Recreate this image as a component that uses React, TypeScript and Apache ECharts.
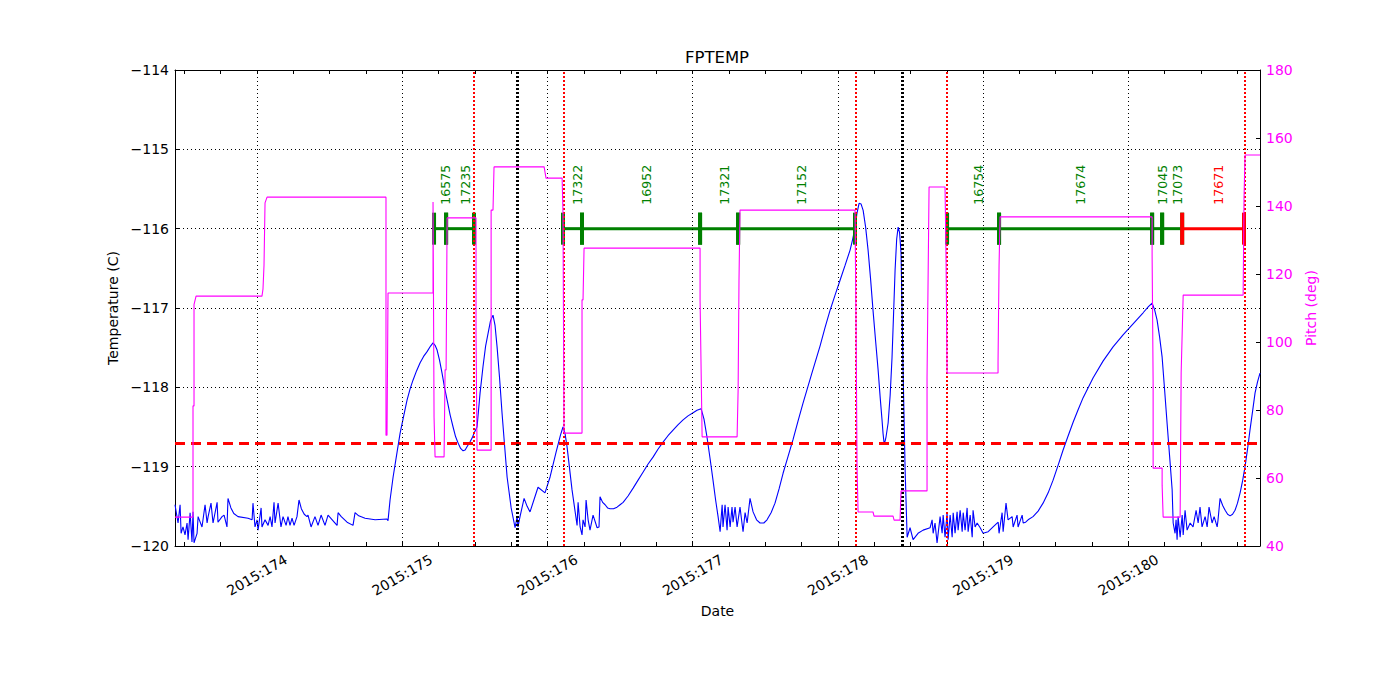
import React, { useEffect, useRef } from 'react';
import * as echarts from 'echarts';

const X_MIN = 173.435;
const X_MAX = 180.907;
const dayTicks = [174, 175, 176, 177, 178, 179, 180];
const quarterTicks = [
  173.5, 173.75, 174, 174.25, 174.5, 174.75, 175, 175.25, 175.5, 175.75,
  176, 176.25, 176.5, 176.75, 177, 177.25, 177.5, 177.75, 178, 178.25,
  178.5, 178.75, 179, 179.25, 179.5, 179.75, 180, 180.25, 180.5, 180.75,
];

// FPTEMP (deg C) vs day of year 2015
const fptemp: [number, number][] = [
  [173.435,-119.48],[173.456,-119.71],[173.470,-119.48],[173.477,-119.84],[173.490,-119.76],
  [173.504,-119.86],[173.518,-119.71],[173.525,-119.92],[173.539,-119.58],[173.552,-119.95],
  [173.559,-119.57],[173.566,-119.96],[173.587,-119.84],[173.594,-119.63],[173.621,-119.76],
  [173.642,-119.48],[173.656,-119.71],[173.663,-119.63],[173.683,-119.46],[173.697,-119.71],
  [173.725,-119.45],[173.731,-119.70],[173.759,-119.63],[173.773,-119.61],[173.793,-119.76],
  [173.800,-119.40],[173.820,-119.52],[173.840,-119.59],[173.869,-119.63],[173.938,-119.65],
  [173.966,-119.67],[173.972,-119.46],[173.986,-119.76],[174.000,-119.67],[174.007,-119.80],
  [174.028,-119.52],[174.034,-119.76],[174.055,-119.67],[174.076,-119.74],[174.090,-119.63],
  [174.103,-119.76],[174.117,-119.45],[174.124,-119.71],[174.145,-119.46],[174.165,-119.76],
  [174.179,-119.63],[174.200,-119.74],[174.213,-119.63],[174.227,-119.74],[174.241,-119.65],
  [174.255,-119.74],[174.275,-119.63],[174.289,-119.42],[174.305,-119.53],[174.325,-119.60],
  [174.344,-119.63],[174.351,-119.61],[174.372,-119.76],[174.399,-119.63],[174.420,-119.74],
  [174.441,-119.61],[174.468,-119.74],[174.489,-119.61],[174.551,-119.74],[174.558,-119.58],
  [174.580,-119.63],[174.620,-119.70],[174.661,-119.74],[174.675,-119.58],[174.700,-119.62],
  [174.744,-119.65],[174.813,-119.67],[174.895,-119.66],[174.902,-119.68],[174.916,-119.42],
  [174.937,-119.13],[174.964,-118.82],[174.985,-118.58],[175.010,-118.36],[175.033,-118.16],
  [175.054,-118.02],[175.074,-117.91],[175.099,-117.79],[175.123,-117.69],[175.147,-117.61],
  [175.171,-117.55],[175.195,-117.48],[175.212,-117.44],[175.226,-117.47],[175.240,-117.53],
  [175.257,-117.66],[175.274,-117.82],[175.291,-118.00],[175.309,-118.16],[175.330,-118.35],
  [175.350,-118.50],[175.367,-118.62],[175.384,-118.70],[175.402,-118.77],[175.419,-118.80],
  [175.433,-118.79],[175.446,-118.75],[175.466,-118.69],[175.481,-118.64],
  [175.494,-118.58],[175.515,-118.50],[175.536,-118.07],[175.556,-117.74],[175.574,-117.48],
  [175.591,-117.32],[175.608,-117.16],[175.625,-117.09],[175.639,-117.22],[175.653,-117.49],
  [175.670,-117.88],[175.687,-118.32],[175.705,-118.74],[175.722,-119.13],[175.750,-119.52],
  [175.777,-119.77],[175.791,-119.63],[175.797,-119.76],[175.811,-119.63],[175.839,-119.40],
  [175.860,-119.50],[175.880,-119.57],[175.935,-119.26],[175.983,-119.33],[176.018,-119.13],
  [176.059,-118.82],[176.090,-118.60],[176.107,-118.50],[176.121,-118.58],
  [176.135,-118.75],[176.169,-119.29],[176.204,-119.74],[176.211,-119.45],[176.225,-119.76],
  [176.238,-119.86],[176.245,-119.67],[176.259,-119.76],[176.266,-119.42],[176.280,-119.67],
  [176.293,-119.80],[176.314,-119.61],[176.342,-119.77],[176.355,-119.76],[176.362,-119.38],
  [176.380,-119.45],[176.397,-119.48],[176.414,-119.52],[176.431,-119.53],[176.455,-119.53],
  [176.479,-119.51],[176.500,-119.48],[176.521,-119.45],[176.555,-119.37],[176.590,-119.27],
  [176.624,-119.17],[176.658,-119.07],[176.692,-118.97],[176.727,-118.88],[176.761,-118.78],
  [176.796,-118.69],[176.830,-118.61],[176.865,-118.54],[176.900,-118.47],[176.934,-118.41],
  [176.968,-118.36],[177.003,-118.32],[177.030,-118.29],[177.058,-118.27],[177.078,-118.40],
  [177.099,-118.63],[177.120,-118.90],[177.140,-119.17],[177.158,-119.42],[177.175,-119.63],
  [177.189,-119.82],[177.203,-119.48],[177.209,-119.76],[177.223,-119.48],[177.237,-119.80],
  [177.244,-119.51],[177.258,-119.76],[177.271,-119.51],[177.278,-119.70],[177.292,-119.51],
  [177.306,-119.76],[177.326,-119.51],[177.347,-119.82],[177.361,-119.58],[177.375,-119.71],
  [177.395,-119.40],[177.416,-119.57],[177.440,-119.67],[177.464,-119.71],[177.490,-119.71],
  [177.512,-119.67],[177.540,-119.58],[177.567,-119.46],[177.595,-119.28],
  [177.623,-119.08],[177.657,-118.87],[177.691,-118.66],[177.725,-118.43],[177.760,-118.20],
  [177.818,-117.84],[177.877,-117.48],[177.911,-117.25],[177.946,-117.03],[177.980,-116.84],
  [178.015,-116.65],[178.050,-116.46],[178.084,-116.27],[178.101,-116.14],[178.118,-115.99],
  [178.132,-115.80],[178.146,-115.68],[178.160,-115.69],[178.174,-115.77],[178.191,-115.98],
  [178.208,-116.27],[178.225,-116.63],[178.242,-117.03],[178.260,-117.42],[178.277,-117.78],
  [178.291,-118.12],[178.304,-118.41],[178.311,-118.58],[178.318,-118.70],[178.325,-118.68],
  [178.332,-118.62],[178.346,-118.45],[178.360,-118.10],[178.373,-117.62],[178.384,-117.05],
  [178.394,-116.52],[178.405,-116.13],[178.415,-115.98],[178.425,-116.05],[178.435,-116.31],
  [178.449,-117.78],[178.463,-119.04],[178.477,-119.89],[178.497,-119.77],[178.518,-119.92],
  [178.552,-119.84],[178.587,-119.80],[178.635,-119.77],[178.649,-119.67],[178.656,-119.84],
  [178.669,-119.71],[178.683,-119.96],[178.704,-119.63],[178.718,-119.84],[178.725,-119.61],
  [178.738,-119.89],[178.752,-119.58],[178.759,-119.92],[178.773,-119.61],[178.787,-119.89],
  [178.794,-119.58],[178.807,-119.84],[178.821,-119.57],[178.828,-119.80],[178.842,-119.55],
  [178.856,-119.82],[178.863,-119.58],[178.876,-119.80],[178.890,-119.52],[178.897,-119.82],
  [178.911,-119.61],[178.925,-119.89],[178.931,-119.55],[178.945,-119.76],[178.959,-119.71],
  [178.980,-119.77],[179.000,-119.84],[179.035,-119.82],[179.069,-119.76],[179.104,-119.70],
  [179.110,-119.84],[179.131,-119.58],[179.138,-119.82],[179.158,-119.46],[179.172,-119.67],
  [179.200,-119.63],[179.207,-119.76],[179.234,-119.61],[179.241,-119.76],[179.269,-119.61],
  [179.276,-119.71],[179.293,-119.70],[179.310,-119.67],[179.344,-119.63],[179.379,-119.56],
  [179.413,-119.46],[179.448,-119.33],[179.482,-119.17],[179.517,-118.98],[179.551,-118.79],
  [179.586,-118.61],[179.620,-118.44],[179.655,-118.28],[179.689,-118.13],[179.758,-117.88],
  [179.826,-117.67],[179.895,-117.49],[179.964,-117.34],[180.033,-117.20],[180.102,-117.06],
  [180.140,-116.98],[180.164,-116.94],[180.181,-117.02],[180.198,-117.15],[180.216,-117.37],
  [180.233,-117.62],[180.250,-118.03],[180.267,-118.45],[180.285,-118.88],
  [180.302,-119.29],[180.309,-119.71],[180.322,-119.84],[180.329,-119.67],[180.336,-119.92],
  [180.343,-119.63],[180.357,-119.89],[180.371,-119.61],[180.378,-119.86],[180.391,-119.55],
  [180.405,-119.80],[180.426,-119.71],[180.446,-119.76],[180.467,-119.55],[180.481,-119.71],
  [180.494,-119.51],[180.508,-119.76],[180.529,-119.63],[180.543,-119.76],[180.556,-119.51],
  [180.577,-119.71],[180.591,-119.63],[180.612,-119.76],[180.618,-119.67],[180.632,-119.40],
  [180.650,-119.49],[180.667,-119.55],[180.684,-119.60],[180.701,-119.62],[180.718,-119.60],
  [180.735,-119.55],[180.752,-119.46],[180.770,-119.33],[180.787,-119.18],[180.804,-119.00],
  [180.821,-118.78],[180.838,-118.54],[180.856,-118.30],[180.873,-118.07],[180.890,-117.93],
  [180.907,-117.82],
];

// Pitch (deg) vs day of year 2015
const pitch: [number, number][] = [
  [173.435,48.5],[173.559,48.5],[173.559,81.2],[173.566,81.2],[173.566,111.0],[173.580,113.5],
  [174.034,113.5],[174.041,115.6],[174.048,122.6],[174.055,140.9],[174.069,142.6],
  [174.888,142.6],[174.888,72.6],[174.895,72.6],[174.902,114.4],[175.212,114.4],
  [175.212,141.2],[175.219,77.9],[175.226,66.2],[175.288,66.2],[175.295,91.8],[175.302,91.8],
  [175.309,136.5],[175.508,136.5],[175.508,102.6],[175.515,68.2],[175.612,68.2],
  [175.612,138.8],[175.625,138.8],[175.632,151.5],[175.977,151.5],[175.990,148.2],
  [176.101,148.2],[176.107,137.9],[176.114,73.2],[176.238,73.2],[176.238,112.4],
  [176.245,112.4],[176.252,127.6],[177.051,127.6],[177.051,112.4],[177.065,72.1],
  [177.306,72.1],[177.313,85.9],[177.319,118.0],[177.326,138.8],[178.118,138.8],
  [178.125,105.6],[178.132,63.2],[178.139,50.0],[178.242,50.0],[178.249,48.8],
  [178.380,48.8],[178.387,47.6],[178.428,47.6],[178.435,56.2],[178.614,56.2],
  [178.614,89.4],[178.628,145.6],[178.738,145.6],[178.745,124.1],[178.752,90.9],
  [179.103,90.9],[179.103,94.1],[179.110,122.6],[179.117,136.8],[180.164,136.8],
  [180.164,125.6],[180.171,87.9],[180.171,62.9],[180.233,62.9],[180.233,57.9],
  [180.240,48.5],[180.357,48.5],[180.364,90.9],[180.378,113.8],[180.791,113.8],
  [180.797,142.4],[180.804,155.0],[180.907,155.0],
];

// Observation intervals
const obsids = ['16575','17235','17322','16952','17321','17152','16754','17674','17045','17073','17671'];
const obsStart = [175.219,175.302,176.107,176.238,177.051,177.313,178.752,179.110,180.164,180.233,180.371];
const obsStop = [175.302,175.494,176.238,177.051,177.313,178.118,179.110,180.164,180.233,180.371,180.797];
const obsPlanned = [false,false,false,false,false,false,false,false,false,false,true];
const OBS_LEVEL = -116;

const limitTemp = -118.7;
const redEvents = [175.494, 176.107, 178.118, 178.752, 180.797];
const blackEvents = [175.791, 178.435];

const FONT = 'DejaVu Sans';
const GREEN = '#008000';
const RED = '#ff0000';
const MAGENTA = '#ff00ff';
const BLUE = '#0000ff';

const minus = (v: number) => (v < 0 ? '\u2212' + Math.abs(v) : String(v));

function buildOption() {
  const axisLine = { show: true, onZero: false, lineStyle: { color: '#000', width: 1 } };
  const tick = { show: true, inside: true, length: 4, lineStyle: { color: '#000', width: 1 } };
  return {
    animation: false,
    backgroundColor: '#fff',
    textStyle: { fontFamily: FONT },
    graphic: [
      {
        type: 'text',
        x: 717,
        y: 57,
        style: { text: 'FPTEMP', fill: '#000', font: `16.5px "${FONT}"`, align: 'center', verticalAlign: 'middle' },
      },
    ],
    grid: { left: 175, right: 140, top: 70, bottom: 154, containLabel: false },
    xAxis: [
      {
        type: 'value',
        position: 'bottom',
        min: X_MIN,
        max: X_MAX,
        name: 'Date',
        nameLocation: 'middle',
        nameGap: 56,
        nameTextStyle: { fontSize: 14, color: '#000', fontFamily: FONT },
        axisLine,
        axisTick: { ...tick, customValues: quarterTicks },
        axisLabel: {
          customValues: dayTicks,
          formatter: (v: number) => '2015:' + Math.round(v),
          rotate: 30,
          align: 'center',
          verticalAlign: 'middle',
          margin: 29,
          fontSize: 14,
          color: '#000',
          fontFamily: FONT,
        },
        splitLine: { show: false },
      },
      {
        type: 'value',
        position: 'top',
        min: X_MIN,
        max: X_MAX,
        axisLine,
        axisTick: { ...tick, customValues: quarterTicks },
        axisLabel: { show: false },
        splitLine: { show: false },
      },
    ],
    yAxis: [
      {
        type: 'value',
        position: 'left',
        min: -120,
        max: -114,
        interval: 1,
        name: 'Temperature (C)',
        nameLocation: 'middle',
        nameGap: 49,
        nameRotate: 90,
        nameTextStyle: { fontSize: 14, color: '#000', fontFamily: FONT },
        axisLine,
        axisTick: tick,
        axisLabel: { formatter: minus, fontSize: 14, color: '#000', margin: 6, fontFamily: FONT },
        splitLine: { show: true, lineStyle: { type: [1, 3], color: '#000', width: 1 } },
      },
      {
        type: 'value',
        position: 'right',
        min: 40,
        max: 180,
        interval: 20,
        name: 'Pitch (deg)',
        nameLocation: 'middle',
        nameGap: 35,
        nameRotate: 90,
        nameTextStyle: { fontSize: 14, color: MAGENTA, fontFamily: FONT },
        axisLine,
        axisTick: tick,
        axisLabel: { fontSize: 14, color: MAGENTA, margin: 6, fontFamily: FONT },
        splitLine: { show: false },
      },
    ],
    series: [
      {
        type: 'line',
        name: 'grid',
        data: [],
        xAxisIndex: 0,
        yAxisIndex: 0,
        z: 1,
        markLine: {
          silent: true,
          symbol: ['none', 'none'],
          label: { show: false },
          lineStyle: { color: '#000', width: 1, type: [1, 3], opacity: 1 },
          data: dayTicks.map((d) => ({ xAxis: d })),
        },
      },
      {
        type: 'line',
        name: 'FPTEMP',
        data: fptemp,
        xAxisIndex: 0,
        yAxisIndex: 0,
        showSymbol: false,
        symbol: 'none',
        z: 3,
        lineStyle: { color: BLUE, width: 1.1 },
        markLine: {
          silent: true,
          symbol: ['none', 'none'],
          label: { show: false },
          data: [
            { yAxis: limitTemp, lineStyle: { color: RED, width: 3, type: [10, 6] } },
            ...redEvents.map((d) => ({ xAxis: d, lineStyle: { color: RED, width: 2, type: [2, 2] } })),
            ...blackEvents.map((d) => ({ xAxis: d, lineStyle: { color: '#000', width: 3, type: [2, 2] } })),
          ],
        },
      },
      {
        type: 'custom',
        name: 'obsids',
        xAxisIndex: 0,
        yAxisIndex: 0,
        z: 4,
        clip: false,
        data: obsids.map((id, i) => [i, obsStart[i], obsStop[i], OBS_LEVEL]),
        renderItem: (params: any, api: any) => {
          const i = api.value(0);
          const s = api.coord([api.value(1), api.value(3)]);
          const e = api.coord([api.value(2), api.value(3)]);
          const c = obsPlanned[i] ? RED : GREEN;
          return {
            type: 'group',
            children: [
              { type: 'line', shape: { x1: s[0], y1: s[1], x2: e[0], y2: e[1] }, style: { stroke: c, lineWidth: 3 } },
              { type: 'rect', shape: { x: s[0] - 2, y: s[1] - 16, width: 4, height: 32 }, style: { fill: c } },
              { type: 'rect', shape: { x: e[0] - 2, y: e[1] - 16, width: 4, height: 32 }, style: { fill: c } },
              {
                type: 'text',
                x: (s[0] + e[0]) / 2 + 5,
                y: s[1] - 24,
                rotation: Math.PI / 2,
                style: { text: obsids[i], fill: c, font: `12.5px "${FONT}"`, align: 'left', verticalAlign: 'middle' },
              },
            ],
          };
        },
      },
      {
        type: 'line',
        name: 'Pitch',
        data: pitch,
        xAxisIndex: 0,
        yAxisIndex: 1,
        showSymbol: false,
        symbol: 'none',
        z: 5,
        lineStyle: { color: MAGENTA, width: 1.1 },
      },
    ],
  };
}

export default function App() {
  const ref = useRef<HTMLDivElement>(null);
  useEffect(() => {
    if (!ref.current) return;
    const chart = echarts.init(ref.current, null, { renderer: 'svg' });
    chart.setOption(buildOption() as any);
    return () => chart.dispose();
  }, []);
  return (
    <div
      ref={ref}
      style={{ position: 'fixed', left: 0, top: 0, width: 1400, height: 700, background: '#fff' }}
    />
  );
}
